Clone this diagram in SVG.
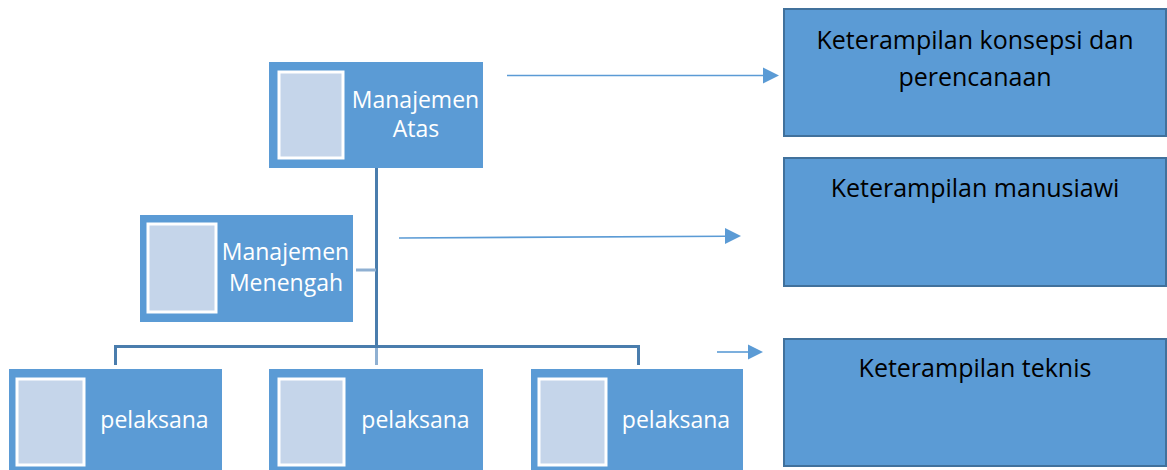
<svg xmlns="http://www.w3.org/2000/svg" width="1167" height="470" viewBox="0 0 1167 470">
<style>
.box{fill:#5B9BD5}
.pic{fill:#C5D5EA;stroke:#FFFFFF;stroke-width:3}
.wt{font-family:"Open Sans",sans-serif;font-size:23px;fill:#FFFFFF;text-anchor:middle}
.skill{fill:#5B9BD5;stroke:#41719C;stroke-width:2}
.bt{font-family:"Open Sans",sans-serif;font-size:25px;fill:#000000;text-anchor:middle}
.conn{fill:none;stroke:#4A7DAD;stroke-width:3}
.connl{fill:none;stroke:#8FB0D2;stroke-width:3}
.arr{fill:none;stroke:#5B9BD5;stroke-width:1.6}
</style>
<g id="connectors">
<path class="conn" d="M376.5,168 V346 M115.5,365 V346.5 H638.5 V365"/>
<path class="connl" d="M376.5,348 V365"/>
<path class="connl" d="M356,270 H376"/>
<path class="arr" d="M507,75.5 H764"/>
<path d="M763,67.5 L779,75.5 L763,83.5 Z" fill="#5B9BD5"/>
<path class="arr" d="M399,238 L726,236.2"/>
<path d="M725,228 L741,236 L725,244 Z" fill="#5B9BD5"/>
<path class="arr" d="M717,352 H749"/>
<path d="M748,344.5 L763,352 L748,359.5 Z" fill="#5B9BD5"/>
</g>
<g id="manajemen-atas">
<rect class="box" x="269" y="62" width="214" height="106"/>
<rect class="pic" x="279" y="72" width="64" height="86"/>
<text class="wt" x="415.5" y="108">Manajemen</text>
<text class="wt" x="416" y="137">Atas</text>
</g>
<g id="manajemen-menengah">
<rect class="box" x="140" y="215" width="213" height="107"/>
<rect class="pic" x="148" y="224" width="68" height="88"/>
<text class="wt" x="285.5" y="260">Manajemen</text>
<text class="wt" x="286" y="291">Menengah</text>
</g>
<g id="pelaksana-1">
<rect class="box" x="9" y="369" width="213" height="101"/>
<rect class="pic" x="17" y="379" width="67" height="86"/>
<text class="wt" x="154.5" y="428">pelaksana</text>
</g>
<g id="pelaksana-2">
<rect class="box" x="269" y="369" width="214" height="101"/>
<rect class="pic" x="279" y="379" width="65" height="86"/>
<text class="wt" x="415.5" y="428">pelaksana</text>
</g>
<g id="pelaksana-3">
<rect class="box" x="531" y="369" width="212" height="101"/>
<rect class="pic" x="539" y="379" width="67" height="86"/>
<text class="wt" x="676" y="428">pelaksana</text>
</g>
<g id="skill-konsepsi">
<rect class="skill" x="784" y="9" width="382" height="127"/>
<text class="bt" x="975" y="49">Keterampilan konsepsi dan</text>
<text class="bt" x="975" y="86">perencanaan</text>
</g>
<g id="skill-manusiawi">
<rect class="skill" x="784" y="158" width="382" height="128"/>
<text class="bt" x="975" y="197">Keterampilan manusiawi</text>
</g>
<g id="skill-teknis">
<rect class="skill" x="784" y="339" width="382" height="127"/>
<text class="bt" x="975" y="377">Keterampilan teknis</text>
</g>
</svg>
